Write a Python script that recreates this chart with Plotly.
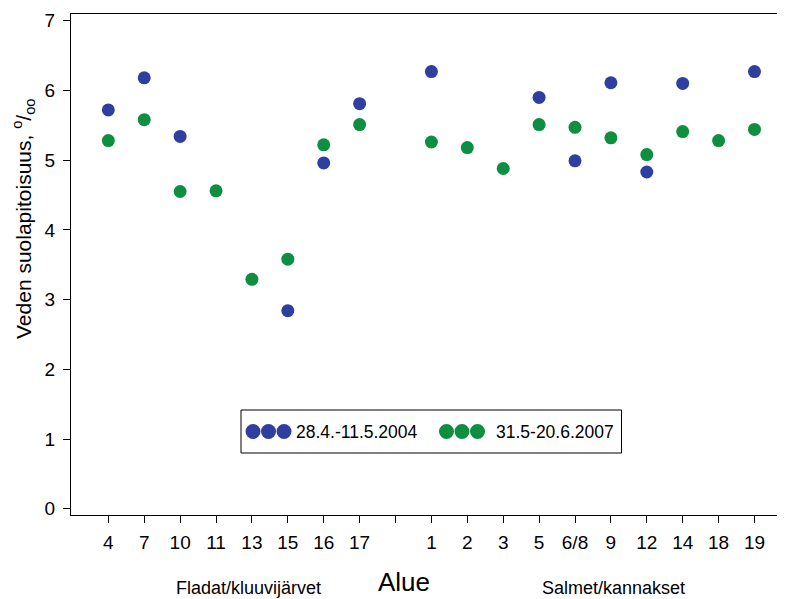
import plotly.graph_objects as go

# Data
categories = ["4", "7", "10", "11", "13", "15", "16", "17", "",
              "1", "2", "3", "5", "6/8", "9", "12", "14", "18", "19"]
salinity_2004 = [5.72, 6.18, 5.34, None, None, 2.84, 4.96, 5.81, None,
                 6.27, None, None, 5.90, 4.99, 6.11, 4.83, 6.10, None, 6.27]
salinity_2007 = [5.28, 5.58, 4.55, 4.56, 3.29, 3.58, 5.22, 5.51, None,
                 5.26, 5.18, 4.88, 5.51, 5.47, 5.32, 5.08, 5.41, 5.28, 5.44]
series_names = ["28.4.-11.5.2004", "31.5-20.6.2007"]
colors = ["#2f3f9f", "#0d8f3f"]
y_ticks = [0, 1, 2, 3, 4, 5, 6, 7]

xpos = list(range(len(categories)))
FONT = "Liberation Sans, Arial, sans-serif"

fig = go.Figure()
for name, vals, col in zip(series_names, [salinity_2004, salinity_2007], colors):
    fig.add_trace(go.Scatter(
        x=xpos, y=vals, mode="markers", name=name,
        marker=dict(color=col, size=13, line=dict(width=0)),
        showlegend=False, cliponaxis=False))

# page body has an 8px margin; compensate so the figure fills the window
OFF = 8
W, H = 785 - OFF, 599 - OFF
L, T = 71 - OFF, 14 - OFF
B = H - (515 - OFF)
R = 0
pw, ph = W - L - R, H - T - B

def px(x):
    return (x - OFF - L) / pw

def py(y):
    return (H - B - (y - OFF)) / ph

shapes = []
annotations = []
# custom legend box
shapes.append(dict(type="rect", xref="paper", yref="paper",
                   x0=px(241), x1=px(621.5), y0=py(453), y1=py(410),
                   line=dict(color="black", width=1), fillcolor="white", layer="above"))
legend_items = [(253, 294, series_names[0], colors[0]),
                (446.5, 494, series_names[1], colors[1])]
for dx, tx, name, col in legend_items:
    for k in range(3):
        cx = px(dx + k * 15.5)
        shapes.append(dict(type="circle", xref="paper", yref="paper",
                           xsizemode="pixel", ysizemode="pixel",
                           xanchor=cx, yanchor=py(431.5),
                           x0=-7.5, x1=7.5, y0=-7.5, y1=7.5,
                           fillcolor=col, line=dict(width=0), layer="above"))
    annotations.append(dict(xref="paper", yref="paper", x=px(tx), y=py(431.5),
                            xanchor="left", yanchor="middle", showarrow=False,
                            text=name, font=dict(family=FONT, size=17.5, color="black")))

# axis titles and group labels
annotations.append(dict(xref="paper", yref="paper", x=px(23), y=py(219),
                        xanchor="center", yanchor="middle", showarrow=False, textangle=-90,
                        text="Veden suolapitoisuus, <sup>o</sup>/<sub>oo</sub>",
                        font=dict(family=FONT, size=21, color="black")))
annotations.append(dict(xref="paper", yref="paper", x=px(404), y=py(582),
                        xanchor="center", yanchor="middle", showarrow=False,
                        text="Alue", font=dict(family=FONT, size=26, color="black")))
annotations.append(dict(xref="paper", yref="paper", x=px(248), y=py(588),
                        xanchor="center", yanchor="middle", showarrow=False,
                        text="Fladat/kluuvijärvet", font=dict(family=FONT, size=18, color="black")))
annotations.append(dict(xref="paper", yref="paper", x=px(613.5), y=py(588),
                        xanchor="center", yanchor="middle", showarrow=False,
                        text="Salmet/kannakset", font=dict(family=FONT, size=18, color="black")))

fig.update_layout(
    width=W, height=H,
    margin=dict(l=L, r=R, t=T, b=B),
    paper_bgcolor="white", plot_bgcolor="white",
    font=dict(family=FONT, color="black"),
    shapes=shapes, annotations=annotations,
    showlegend=False,
)
fig.update_xaxes(
    range=[-1.04, 18.85], tickmode="array", tickvals=xpos, ticktext=categories,
    showgrid=False, zeroline=False, showline=True, linecolor="black", linewidth=1,
    mirror=True, ticks="outside", ticklen=7, tickcolor="black",
    tickfont=dict(family=FONT, size=19, color="black"), ticklabelstandoff=3,
)
fig.update_yaxes(
    range=[-0.09, 7.096], tickmode="array", tickvals=y_ticks,
    showgrid=False, zeroline=False, showline=True, linecolor="black", linewidth=1,
    ticks="outside", ticklen=7, tickcolor="black",
    tickfont=dict(family=FONT, size=19, color="black"), ticklabelstandoff=4,
)

fig.write_html("out.html")
